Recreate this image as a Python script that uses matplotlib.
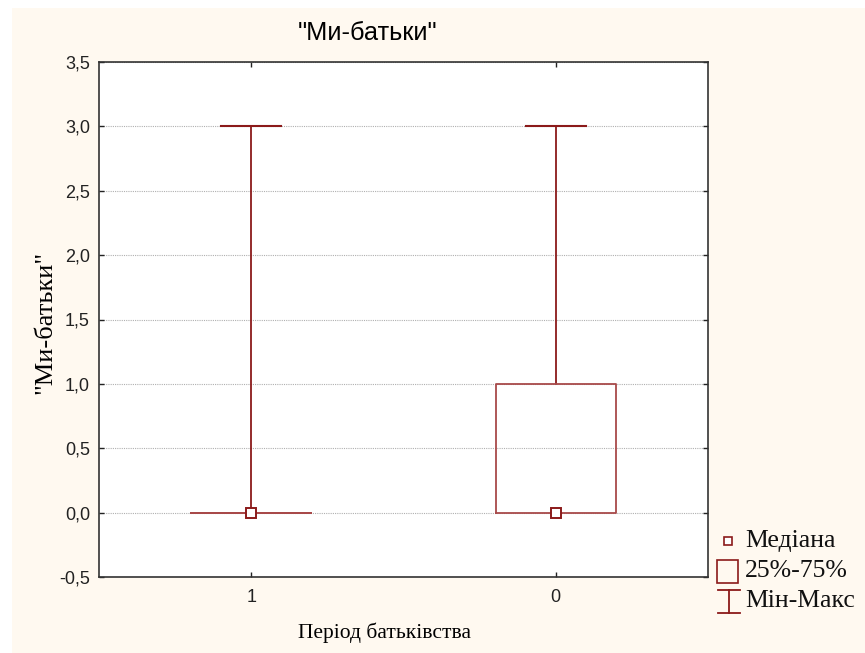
import matplotlib
matplotlib.use("Agg")
import matplotlib.pyplot as plt
from matplotlib.patches import Rectangle
from matplotlib.lines import Line2D
from matplotlib.ticker import FuncFormatter

categories = ['1', '0']
mins = [0.0, 0.0]
q1s = [0.0, 0.0]
medians = [0.0, 0.0]
q3s = [0.0, 1.0]
maxs = [3.0, 3.0]
yticks = [-0.5, 0.0, 0.5, 1.0, 1.5, 2.0, 2.5, 3.0, 3.5]

title = '"Ми-батьки"'
ylabel = '"Ми-батьки"'
xlabel = 'Період батьківства'
legend_labels = ['Медіана', '25%-75%', 'Мін-Макс']

RED = '#8B1A1A'
BOXRED = '#A84A4A'
CREAM = '#FFF9F0'
W, H = 865, 653

fig = plt.figure(figsize=(W / 100, H / 100), dpi=100, facecolor='white')
fig.patches.append(Rectangle((12 / W, 0), 1 - 12 / W, 1 - 8 / H, transform=fig.transFigure,
                             facecolor=CREAM, edgecolor='none', zorder=-10))

ax = fig.add_axes([99 / W, 1 - 577 / H, (708 - 99) / W, (577 - 62) / H])
ax.set_facecolor('white')

positions = list(range(len(categories)))
stats = []
for i, c in enumerate(categories):
    stats.append(dict(label=c, whislo=mins[i], q1=q1s[i], med=medians[i], q3=q3s[i],
                      whishi=maxs[i], fliers=[]))
bp = ax.bxp(stats, positions=positions, widths=0.394, capwidths=0.197, showfliers=False,
            boxprops=dict(color=BOXRED, linewidth=1.3),
            whiskerprops=dict(color=RED, linewidth=1.3),
            capprops=dict(color=RED, linewidth=1.5),
            medianprops=dict(linewidth=0, alpha=0),
            manage_ticks=False)
for a in bp['whiskers'] + bp['caps']:
    a.set_zorder(2)
for a in bp['boxes']:
    a.set_zorder(4)
# lower caps coincide with the box bottom when min == Q1: let the box line show
for i in range(len(categories)):
    if mins[i] == q1s[i]:
        bp['caps'][2 * i].set_visible(False)
ax.plot(positions, medians, linestyle='none', marker='s', markersize=7,
        markerfacecolor='white', markeredgecolor=RED, markeredgewidth=1.4, zorder=5)

ax.set_xlim(-0.5, 1.5)
ax.set_ylim(-0.5, 3.5)
ax.set_xticks(positions)
ax.set_xticklabels(categories)
ax.set_yticks(yticks)
ax.yaxis.set_major_formatter(FuncFormatter(lambda v, p: f'{v:.1f}'.replace('.', ',')))
ax.yaxis.grid(True, linestyle=(0, (1, 1)), color='#b0b0b0', linewidth=0.8)
ax.set_axisbelow(True)
ax.tick_params(direction='in', length=3.5, width=1, top=True, right=True, labelsize=13,
               colors='#222222')
ax.tick_params(axis='x', pad=9)
ax.tick_params(axis='y', pad=6.5)
for lab in ax.get_xticklabels() + ax.get_yticklabels():
    lab.set_fontfamily('Liberation Sans')
for s in ax.spines.values():
    s.set_color('#333333')
    s.set_linewidth(1.2)

fig.text(368 / W, 1 - 33 / H, title, ha='center', va='center', fontsize=18.3,
         family='Liberation Sans')
fig.text(385 / W, 1 - 633 / H, xlabel, ha='center', va='center', fontsize=15.5,
         family='Liberation Serif')
fig.text(45 / W, 1 - 322 / H, ylabel, ha='center', va='center', fontsize=19,
         family='Liberation Serif', rotation=90)

# legend drawn manually
def px(x, y):
    return x / W, 1 - y / H

tf = fig.transFigure
fig.add_artist(Line2D([px(728, 0)[0]], [px(0, 541)[1]], marker='s', markersize=6,
                      markerfacecolor='white', markeredgecolor=RED, markeredgewidth=1.2,
                      transform=tf))
x0, y0 = px(717, 583)
fig.add_artist(Rectangle((x0, y0), 21 / W, 23 / H, facecolor='none', edgecolor=RED,
                         linewidth=1.2, transform=tf))
for yy in (590, 613):
    fig.add_artist(Line2D([px(718, 0)[0], px(740, 0)[0]], [px(0, yy)[1]] * 2, color=RED,
                          linewidth=1.3, transform=tf))
fig.add_artist(Line2D([px(729, 0)[0]] * 2, [px(0, 590)[1], px(0, 613)[1]], color=RED,
                      linewidth=1.3, transform=tf))
for lab, yy in zip(legend_labels, (541, 571, 601)):
    fig.text(px(745, 0)[0], px(0, yy)[1], lab, ha='left', va='center', fontsize=18.5,
             family='Liberation Serif', color='#111111')

fig.savefig('out.png', dpi=100, facecolor='white')
